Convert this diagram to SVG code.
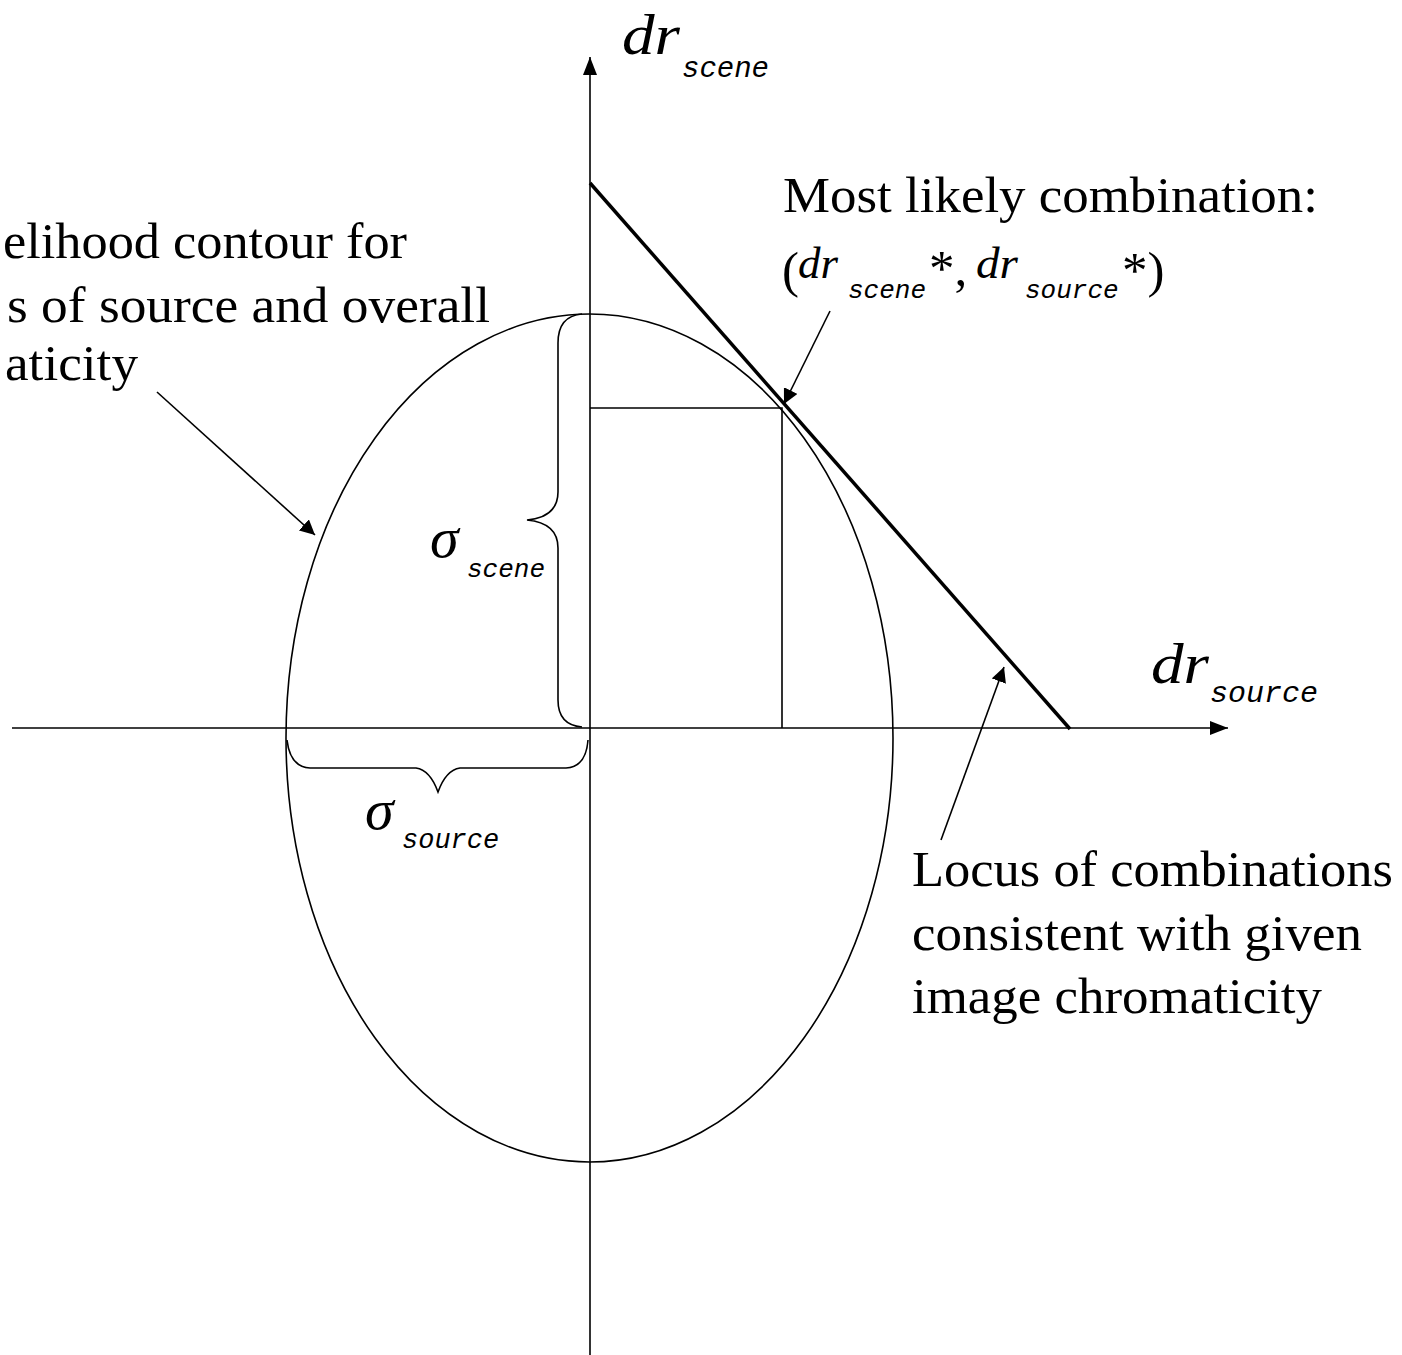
<svg xmlns="http://www.w3.org/2000/svg" width="1402" height="1355" viewBox="0 0 1402 1355">
<style>
.ln{stroke:#000;stroke-width:1.6;fill:none}
.thick{stroke:#000;stroke-width:3.5;fill:none}
.t{font-family:"Liberation Serif","Times New Roman",serif;font-size:51px;fill:#000}
.dr{font-family:"Liberation Serif","Times New Roman",serif;font-style:italic;fill:#000}
.sub{font-family:"Liberation Mono","Courier New",monospace;font-style:italic;fill:#000}
.sg{font-family:"Liberation Serif","Times New Roman",serif;font-style:italic;font-size:58px;fill:#000}
</style>
<defs>
<marker id="ah" viewBox="0 0 10 10" refX="10" refY="5" markerWidth="15" markerHeight="15" markerUnits="userSpaceOnUse" orient="auto">
<path d="M0,0 L10,5 L0,10 Z" fill="#000"/>
</marker>
<marker id="axh" viewBox="0 0 10 10" refX="10" refY="5" markerWidth="18" markerHeight="14" markerUnits="userSpaceOnUse" orient="auto" preserveAspectRatio="none">
<path d="M0,0 L10,5 L0,10 Z" fill="#000"/>
</marker>
</defs>
<rect width="1402" height="1355" fill="#fff"/>

<g id="axes">
<line class="ln" x1="590" y1="1355" x2="590" y2="57" marker-end="url(#axh)"/>
<line class="ln" x1="12" y1="728" x2="1228" y2="728" marker-end="url(#axh)"/>
</g>

<g id="contour">
<ellipse class="ln" cx="589.5" cy="738" rx="303.5" ry="424"/>
</g>

<g id="locus">
<line class="thick" x1="590" y1="183" x2="1070" y2="729"/>
</g>

<g id="projection">
<polyline class="ln" points="590,408 782,408 782,728"/>
</g>

<g id="braces">
<path class="ln" d="M582,314 Q558,316 558,343 L558,492 Q558,517 527,520 Q558,523 558,548 L558,700 Q558,725 582,727"/>
<path class="ln" d="M287,740 Q290,767 310,768 L416,768 Q430,770 438,792 Q446,770 460,768 L566,768 Q586,767 588,740"/>
</g>

<g id="connectors">
<line class="ln" x1="157" y1="392" x2="315" y2="535" marker-end="url(#ah)"/>
<line class="ln" x1="830" y1="311" x2="784" y2="404" marker-end="url(#ah)"/>
<line class="ln" x1="941" y1="840" x2="1004" y2="667" marker-end="url(#ah)"/>
</g>

<g id="label-drscene">
<text class="dr" x="622" y="54" font-size="56" textLength="58" lengthAdjust="spacingAndGlyphs">dr</text>
<text class="sub" x="682" y="77" font-size="29">scene</text>
</g>

<g id="label-drsource">
<text class="dr" x="1151" y="683" font-size="56" textLength="58" lengthAdjust="spacingAndGlyphs">dr</text>
<text class="sub" x="1210" y="702" font-size="30">source</text>
</g>

<g id="label-sigma-scene">
<text class="sg" x="430" y="557">σ</text>
<text class="sub" x="467" y="577" font-size="26">scene</text>
</g>

<g id="label-sigma-source">
<text class="sg" x="365" y="829">σ</text>
<text class="sub" x="402" y="848" font-size="27">source</text>
</g>

<g id="label-contour">
<text class="t" x="3" y="258" textLength="404" lengthAdjust="spacingAndGlyphs">elihood contour for</text>
<text class="t" x="7" y="322" textLength="483" lengthAdjust="spacingAndGlyphs">s of source and overall</text>
<text class="t" x="5" y="380" textLength="133" lengthAdjust="spacingAndGlyphs">aticity</text>
</g>

<g id="label-most-likely">
<text class="t" x="783" y="212" textLength="535" lengthAdjust="spacingAndGlyphs">Most likely combination:</text>
<text class="t" x="782" y="287" font-size="46">(</text>
<text class="dr" x="798" y="278" font-size="44" textLength="40" lengthAdjust="spacingAndGlyphs">dr</text>
<text class="sub" x="848" y="298" font-size="26">scene</text>
<text class="t" x="929" y="285" font-size="44">*,</text>
<text class="dr" x="976" y="278" font-size="44" textLength="42" lengthAdjust="spacingAndGlyphs">dr</text>
<text class="sub" x="1025" y="298" font-size="26">source</text>
<text class="t" x="1122" y="287" font-size="46">*)</text>
</g>

<g id="label-locus">
<text class="t" x="912" y="886" textLength="481" lengthAdjust="spacingAndGlyphs">Locus of combinations</text>
<text class="t" x="912" y="950" textLength="450" lengthAdjust="spacingAndGlyphs">consistent with given</text>
<text class="t" x="912" y="1013" textLength="410" lengthAdjust="spacingAndGlyphs">image chromaticity</text>
</g>
</svg>
